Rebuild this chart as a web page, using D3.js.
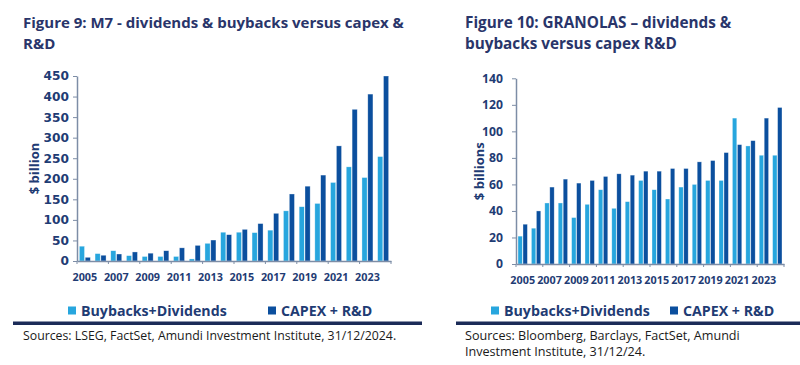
<!DOCTYPE html>
<html><head><meta charset="utf-8">
<script src="https://cdn.jsdelivr.net/npm/d3@7"></script>
<style>
html,body{margin:0;padding:0;background:#fff;}
svg{display:block;}
</style></head>
<body>
<svg id="c" width="800" height="365"></svg>
<script>
// ---------------- DATA ----------------
const years = ["2005","2006","2007","2008","2009","2010","2011","2012","2013","2014",
               "2015","2016","2017","2018","2019","2020","2021","2022","2023","2024"];
const xTickLabels = ["2005","2007","2009","2011","2013","2015","2017","2019","2021","2023"];
const seriesNames = ["Buybacks+Dividends","CAPEX + R&D"];

const m7Buybacks = [36,18,25,13,11,11,11,5,43,70,70,69,75,122,132,140,191,229,203,254];
const m7Capex    = [9,14,17,22,19,25,32,38,51,64,77,91,116,163,182,209,280,369,406,450];
const m7YTicks   = [0,50,100,150,200,250,300,350,400,450];

const granBuybacks = [21,27,46,46,35,45,56,42,47,63,56,49,58,60,63,63,110,89,82,82];
const granCapex    = [30,40,58,64,61,63,66,68,67,70,70,72,72,77,78,84,90,93,110,118];
const granYTicks   = [0,20,40,60,80,100,120,140];

// ---------------- STYLE ----------------
const C_LIGHT = "#27a6de", C_DARK = "#0b4f9e";
const C_TITLE = "#29356a", C_LABEL = "#1f3c74", C_AXIS = "#7d8da6", C_RULE = "#1b2b58";
const SANS = "'Open Sans', 'Noto Sans', sans-serif";

const svg = d3.select("#c");

function drawChart(o) {
  const g = svg.append("g");
  // title
  const t = g.append("text").attr("x", o.titleX).attr("y", 28)
    .attr("font-family", SANS).attr("font-weight", 700).attr("font-size", o.titleSize)
    .attr("fill", C_TITLE);
  o.title.forEach((line, i) => t.append("tspan").attr("x", o.titleX).attr("dy", i ? 21 : 0).text(line));

  const x0 = d3.scaleBand().domain(years).range([o.left, o.right]).padding(0);
  const x1 = d3.scaleBand().domain(seriesNames)
    .range([x0.bandwidth() * 0.15, x0.bandwidth() * 0.85]).paddingInner(0.12);
  const y = d3.scaleLinear().domain([0, o.yMax]).range([o.bottom, o.top]);

  const data = years.map((yr, i) => ({year: yr, vals: [
    {s: seriesNames[0], v: o.a[i], c: C_LIGHT},
    {s: seriesNames[1], v: o.b[i], c: C_DARK}]}));

  g.append("g").selectAll("g").data(data).join("g")
    .attr("transform", d => `translate(${x0(d.year)},0)`)
    .selectAll("rect").data(d => d.vals).join("rect")
    .attr("x", d => x1(d.s)).attr("width", x1.bandwidth())
    .attr("y", d => y(d.v)).attr("height", d => y(0) - y(d.v))
    .attr("fill", d => d.c)
    .attr("stroke", "rgba(255,255,255,0.55)").attr("stroke-width", 0.6);

  // y axis
  const ya = g.append("g").attr("transform", `translate(${o.left},0)`)
    .call(d3.axisLeft(y).tickValues(o.yTicks).tickSize(4).tickPadding(o.yPad).tickSizeOuter(0));
  ya.select(".domain").attr("stroke", C_AXIS).attr("stroke-width", 1.5);
  ya.selectAll(".tick line").attr("stroke", C_AXIS);
  ya.selectAll(".tick text").attr("fill", C_LABEL).attr("font-family", o.yFont)
    .attr("font-weight", 700).attr("font-size", o.yTickSize);

  // x axis
  const xa = g.append("g").attr("transform", `translate(0,${o.bottom})`)
    .call(d3.axisBottom(x0).tickValues(xTickLabels).tickSize(0).tickPadding(o.xPad).tickSizeOuter(0));
  xa.select(".domain").attr("stroke", C_AXIS).attr("stroke-width", 1.5);
  xa.selectAll(".tick text").attr("fill", C_LABEL).attr("font-family", SANS)
    .attr("font-weight", 700).attr("font-size", 10.8);
  const bounds = years.filter((d, i) => i % 2 === 0).map(d => x0(d)).concat([o.right]);
  xa.selectAll("line.bt").data(bounds).join("line").attr("class", "bt")
    .attr("x1", d => d).attr("x2", d => d).attr("y1", 0).attr("y2", 3)
    .attr("stroke", C_AXIS).attr("stroke-width", 1);

  // y title
  g.append("text")
    .attr("transform", `translate(${o.yTitleX},${(o.top + o.bottom) / 2}) rotate(-90)`)
    .attr("text-anchor", "middle").attr("font-family", SANS).attr("font-weight", 700)
    .attr("font-size", 13).attr("fill", C_LABEL).text(o.yTitle);

  // legend
  const lg = g.append("g");
  o.legendX.forEach((lx, i) => {
    lg.append("rect").attr("x", lx).attr("y", 306.5).attr("width", 8).attr("height", 8)
      .attr("fill", i ? C_DARK : C_LIGHT);
    lg.append("text").attr("x", lx + 13).attr("y", 315.5).attr("font-family", SANS)
      .attr("font-weight", 700).attr("font-size", 14.2).attr("fill", C_LABEL).text(seriesNames[i]);
  });

  // rule
  g.append("rect").attr("x", o.ruleX[0]).attr("y", 321.5).attr("width", o.ruleX[1] - o.ruleX[0])
    .attr("height", 3.5).attr("fill", C_RULE);

  // sources
  const s = g.append("text").attr("x", o.titleX).attr("y", 340).attr("font-family", SANS)
    .attr("font-size", o.srcSize).attr("fill", "#1a1a1a");
  o.sources.forEach((line, i) => s.append("tspan").attr("x", o.titleX).attr("dy", i ? 16 : 0).text(line));
}

drawChart({
  title: ["Figure 9: M7 - dividends & buybacks versus capex &", "R&D"],
  titleX: 23, titleSize: 15,
  left: 77, right: 391, top: 76, bottom: 261, yMax: 450, yTicks: m7YTicks,
  a: m7Buybacks, b: m7Capex,
  yFont: "'DejaVu Sans', sans-serif", yTickSize: 12.2, yPad: 4, xPad: 12,
  yTitle: "$ billion", yTitleX: 39,
  legendX: [68, 268],
  ruleX: [13, 422],
  srcSize: 12.3,
  sources: ["Sources: LSEG, FactSet, Amundi Investment Institute, 31/12/2024."]
});

drawChart({
  title: ["Figure 10: GRANOLAS \u2013 dividends &", "buybacks versus capex R&D"],
  titleX: 465, titleSize: 15.3,
  left: 516, right: 784, top: 78.3, bottom: 264, yMax: 140, yTicks: granYTicks,
  a: granBuybacks, b: granCapex,
  yFont: SANS, yTickSize: 12.2, yPad: 9, xPad: 12,
  yTitle: "$ billions", yTitleX: 484,
  legendX: [491, 670],
  ruleX: [456, 800],
  srcSize: 12.6,
  sources: ["Sources: Bloomberg, Barclays, FactSet, Amundi", "Investment Institute, 31/12/24."]
});
</script>
</body></html>
